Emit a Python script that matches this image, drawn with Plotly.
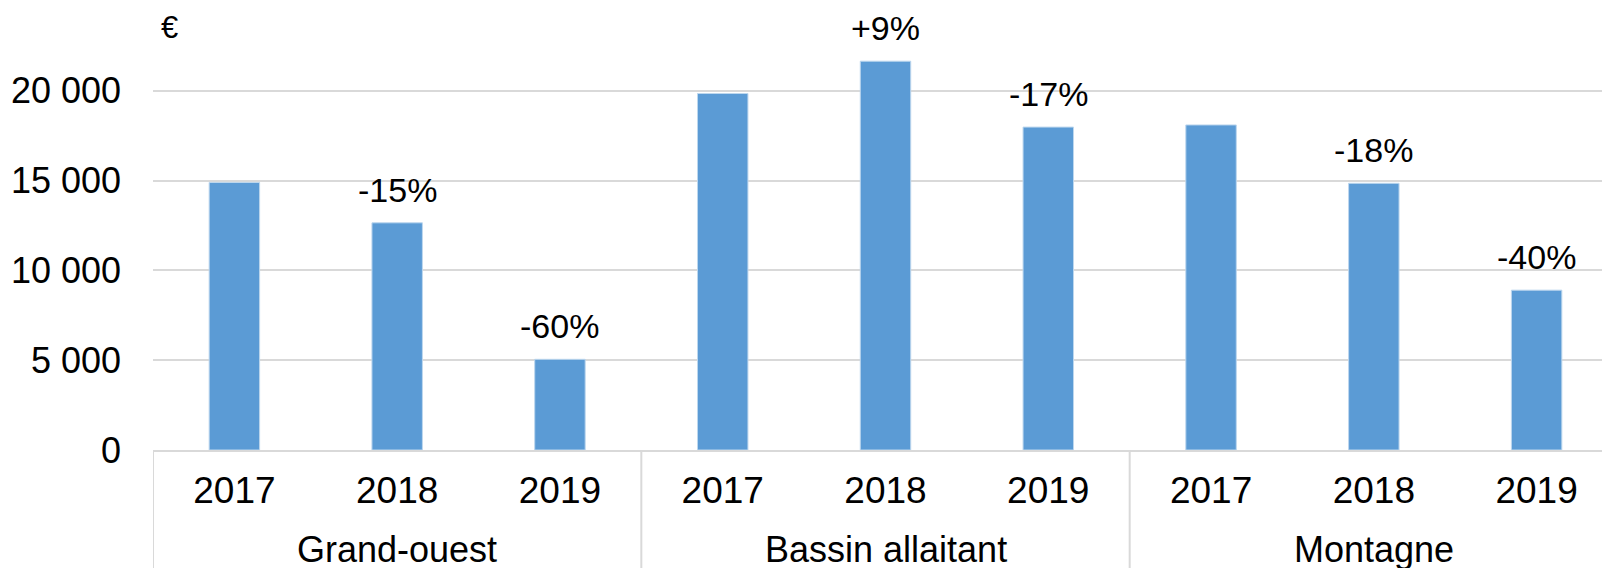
import plotly.graph_objects as go

regions = ['Grand-ouest', 'Bassin allaitant', 'Montagne']
years = ['2017', '2018', '2019']

grand_ouest = [14900, 12650, 5050]
bassin_allaitant = [19850, 21650, 17980]
montagne = [18100, 14850, 8900]

variation = ['', '-15%', '-60%', '', '+9%', '-17%', '', '-18%', '-40%']

cats = [r + ' ' + y for r in regions for y in years]
year_labels = years * 3
values = grand_ouest + bassin_allaitant + montagne

font = 'Liberation Sans'
grey = '#D9D9D9'

fig = go.Figure(go.Bar(x=cats, y=values,
                       marker_color='#5B9BD5',
                       marker_line_color='#BDD7EE', marker_line_width=1))

fig.update_layout(width=1610, height=568,
                  margin=dict(l=145, r=0, t=2, b=126),
                  plot_bgcolor='white', paper_bgcolor='white',
                  separators=', ', bargap=0.69, showlegend=False,
                  font=dict(family=font, size=35, color='black'))

fig.update_yaxes(range=[0, 24500], dtick=5000, tickformat=',d',
                 tickfont=dict(size=36),
                 showgrid=True, gridcolor=grey, gridwidth=2,
                 zeroline=False, showline=False, ticks='',
                 ticklabelstandoff=31, automargin=False)
fig.update_xaxes(range=[-0.5, 8.5], showline=True, linecolor=grey,
                 linewidth=2, tickvals=cats, ticktext=year_labels,
                 tickfont=dict(size=37), ticks='', ticklabelstandoff=7,
                 automargin=False)

# % change above the bars
for c, v, t in zip(cats, values, variation):
    if t:
        fig.add_annotation(text=t, x=c, y=v, yanchor='bottom', yshift=12,
                           showarrow=False, font=dict(size=34))

# group labels under the years, and the dividers between groups
for i, r in enumerate(regions):
    fig.add_annotation(text=r, x=cats[3 * i + 1], xref='x', y=-0.225,
                       yref='paper', yanchor='middle', showarrow=False,
                       font=dict(size=36))
    fig.add_shape(type='line', xref='x', yref='paper', x0=3 * i - 0.5,
                  x1=3 * i - 0.5, y0=0, y1=-0.35,
                  line=dict(color=grey, width=2))

fig.add_annotation(text='€', x=0.011, xref='paper', xanchor='center',
                   y=1.004, yref='paper', yanchor='top', showarrow=False,
                   font=dict(size=31))

fig.write_html("out.html")
